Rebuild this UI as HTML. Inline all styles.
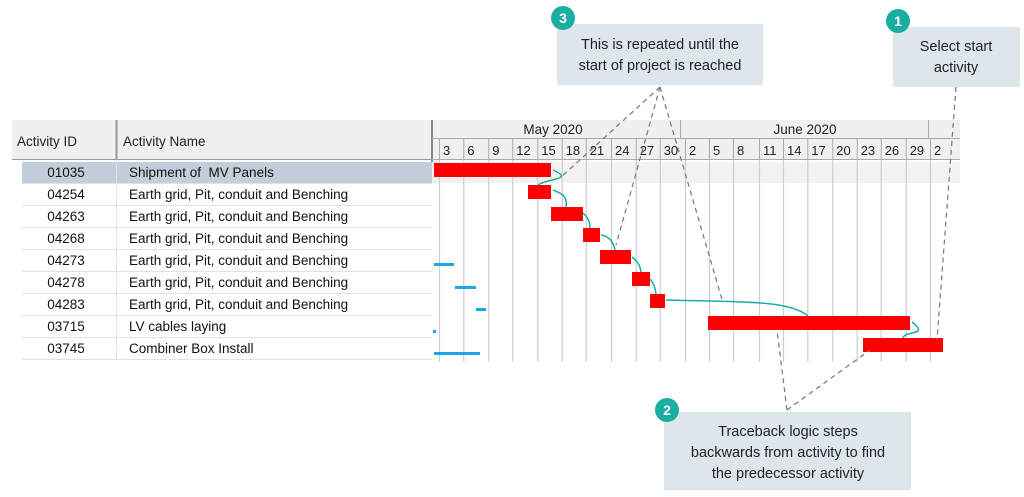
<!DOCTYPE html>
<html><head><meta charset="utf-8"><style>
body{margin:0;background:#fff;width:1024px;height:497px;overflow:hidden;font-family:"Liberation Sans",sans-serif}
svg{display:block}
text{white-space:pre}
</style></head><body>
<svg width="1024" height="497" viewBox="0 0 1024 497" font-family="Liberation Sans, sans-serif">
<rect x="12" y="120" width="420" height="40" fill="#f0f0f0"/>
<line x1="12" y1="159.5" x2="432" y2="159.5" stroke="#999"/>
<line x1="116.5" y1="120" x2="116.5" y2="160" stroke="#999" stroke-width="2"/>
<text x="17" y="146" font-size="13.5" fill="#222">Activity ID</text>
<text x="123" y="146" font-size="13.5" fill="#222">Activity Name</text>
<rect x="432" y="120" width="528" height="40" fill="#f0f0f0"/>
<line x1="432" y1="120" x2="432" y2="162" stroke="#888" stroke-width="2"/>
<line x1="432" y1="138.5" x2="960" y2="138.5" stroke="#aaa"/>
<line x1="432" y1="159.5" x2="960" y2="159.5" stroke="#aaa"/>
<line x1="680.5" y1="120" x2="680.5" y2="138" stroke="#aaa"/>
<line x1="928.5" y1="120" x2="928.5" y2="138" stroke="#aaa"/>
<text x="553" y="134" font-size="13.5" text-anchor="middle" fill="#222">May 2020</text>
<text x="805" y="134" font-size="13.5" text-anchor="middle" fill="#222">June 2020</text>
<g font-size="13" fill="#222" id="days"></g>
<rect x="22" y="162" width="410" height="21" fill="#c2cedb"/>
<rect x="432" y="162" width="528" height="21" fill="#f2f2f2"/>
<g id="rows"></g>
<g id="grid"></g>
<g fill="#19a8e6">
<rect x="434" y="263" width="20" height="3"/>
<rect x="455" y="286" width="21" height="3"/>
<rect x="476" y="308" width="10" height="3"/>
<rect x="433" y="330" width="3" height="3"/>
<rect x="434" y="352" width="46" height="3"/>
</g>
<g fill="#ff0000">
<rect x="434" y="163" width="117" height="14"/>
<rect x="528" y="185" width="23" height="14"/>
<rect x="551" y="207" width="32" height="14"/>
<rect x="583" y="228" width="17" height="14"/>
<rect x="600" y="250" width="31" height="14"/>
<rect x="632" y="272" width="18" height="14"/>
<rect x="650" y="294" width="15" height="14"/>
<rect x="708" y="316" width="202" height="14"/>
<rect x="863" y="338" width="80" height="14"/>
</g>
<g fill="none" stroke="#1aaea0" stroke-width="1.5">
<path d="M538 185 C548 178,575 180,553 170"/>
<path d="M566 207 C568 195,560 193,553 190"/>
<path d="M590 228 C590 220,587 217,583 213"/>
<path d="M615 250 C613 240,608 236,601 235"/>
<path d="M641 272 C640 264,636 260,632 257"/>
<path d="M656 294 C655 286,653 283,650 279"/>
<path d="M808 316 C790 300,740 302,666 300"/>
<path d="M903 338 C905 330,930 336,912 322"/>
</g>
<g stroke="#777" stroke-width="1.2" stroke-dasharray="5,4" fill="none">
<path d="M660 87 L560 178"/>
<path d="M660 87 L616 245"/>
<path d="M660 87 L723 303"/>
<path d="M956 87 L937 340"/>
<path d="M787 410 L777 330"/>
<path d="M787 410 L870 350"/>
</g>
<rect x="557" y="24" width="206" height="61" fill="#dde6ea"/>
<text x="660" y="49" font-size="14.5" text-anchor="middle" fill="#222">This is repeated until the</text>
<text x="660" y="70" font-size="14.5" text-anchor="middle" fill="#222">start of project is reached</text>
<circle cx="563" cy="18" r="12" fill="#1aaea0"/><text x="563" y="23" font-size="14" font-weight="bold" fill="#fff" text-anchor="middle">3</text>
<rect x="893" y="27" width="127" height="60" fill="#dde6ea"/>
<text x="956" y="51" font-size="14.5" text-anchor="middle" fill="#222">Select start</text>
<text x="956" y="72" font-size="14.5" text-anchor="middle" fill="#222">activity</text>
<circle cx="898" cy="21" r="12" fill="#1aaea0"/><text x="898" y="26" font-size="14" font-weight="bold" fill="#fff" text-anchor="middle">1</text>
<rect x="664" y="412" width="247" height="78" fill="#dde6ea"/>
<text x="788" y="436" font-size="14.5" text-anchor="middle" fill="#222">Traceback logic steps</text>
<text x="788" y="457" font-size="14.5" text-anchor="middle" fill="#222">backwards from activity to find</text>
<text x="788" y="478" font-size="14.5" text-anchor="middle" fill="#222">the predecessor activity</text>
<circle cx="667" cy="410" r="12" fill="#1aaea0"/><text x="667" y="415" font-size="14" font-weight="bold" fill="#fff" text-anchor="middle">2</text>
</svg>
<script>
var NS="http://www.w3.org/2000/svg";
function el(p,t,a,txt){var e=document.createElementNS(NS,t);for(var k in a)e.setAttribute(k,a[k]);if(txt)e.textContent=txt;p.appendChild(e);return e;}
var days=["3","6","9","12","15","18","21","24","27","30","2","5","8","11","14","17","20","23","26","29","2"];
var xs=[440,464.3,489.3,513.3,538.3,562.7,586.7,612,636.7,660.7,686,710,734,760,784,808.3,833.3,857.7,881.7,906.7,931];
var dg=document.getElementById("days"),gg=document.getElementById("grid");
for(var i=0;i<xs.length;i++){
 el(dg,"text",{x:xs[i]+3,y:155},days[i]);
 el(dg,"line",{x1:xs[i]-0.5,y1:139,x2:xs[i]-0.5,y2:160,stroke:"#aaa"});
 el(gg,"line",{x1:xs[i]-0.5,y1:160,x2:xs[i]-0.5,y2:362,stroke:"#c8ccd8","stroke-width":1.2});
}
var ids=["01035","04254","04263","04268","04273","04278","04283","03715","03745"];
var names=["Shipment of  MV Panels","Earth grid, Pit, conduit and Benching","Earth grid, Pit, conduit and Benching","Earth grid, Pit, conduit and Benching","Earth grid, Pit, conduit and Benching","Earth grid, Pit, conduit and Benching","Earth grid, Pit, conduit and Benching","LV cables laying","Combiner Box Install"];
var rg=document.getElementById("rows");
for(var r=0;r<9;r++){var y=162+r*22;
 el(rg,"text",{x:66,y:y+15,"font-size":13.5,"text-anchor":"middle",fill:"#111"},ids[r]);
 el(rg,"text",{x:129,y:y+15,"font-size":13.5,fill:"#111"},names[r]);
 el(rg,"line",{x1:22,y1:y+21.5,x2:432,y2:y+21.5,stroke:"#e2e2e2"});
}
el(rg,"line",{x1:116.5,y1:160,x2:116.5,y2:360,stroke:"#e2e2e2"});
</script>
</body></html>
